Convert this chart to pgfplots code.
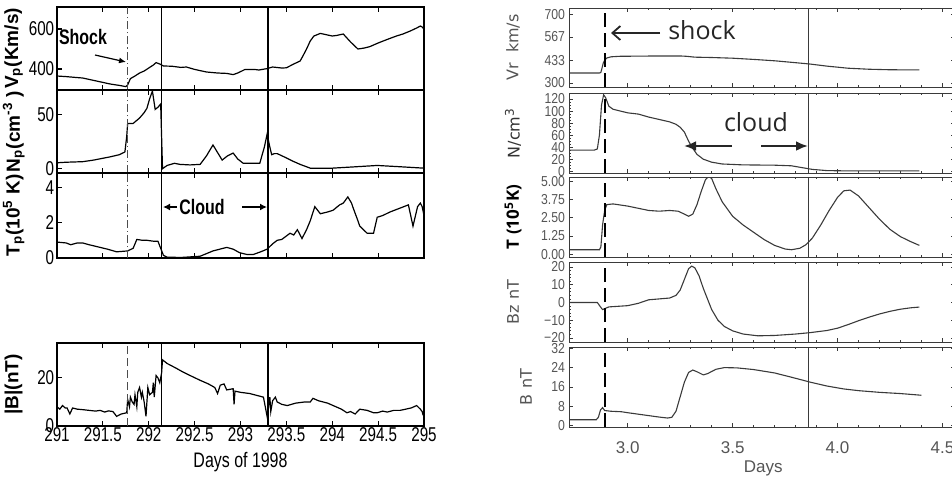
\documentclass[border=0pt]{standalone}
\usepackage{fontspec}
\usepackage{pgfplots}
\pgfplotsset{compat=1.18}
\usetikzlibrary{arrows.meta}
\setmainfont{Liberation Sans}
\newfontfamily\lcond[FakeStretch=0.76]{Liberation Sans}
\newfontfamily\rcond[FakeStretch=0.85]{Liberation Sans}
\newfontfamily\osans{Open Sans}
\newfontfamily\dejavu{DejaVu Sans}
\definecolor{rgray}{HTML}{3A3A3A}
\definecolor{rtick}{HTML}{555555}

\pgfplotsset{
  leftpanel/.style={
    scale only axis, width=183.5pt, anchor=north west,
    xmin=291, xmax=295, xtick={291,291.5,292,292.5,293,293.5,294,294.5,295},
    xtick pos=both, ytick pos=left, tick align=inside,
    major tick length=2.5pt,
    xticklabels={},
    axis line style={line width=0.6pt},
    every tick/.style={black, line width=0.6pt},
    /pgf/number format/assume math mode=true,
    yticklabel style={font=\lcond\fontsize{10}{10}\selectfont, inner sep=1.2pt},
    xticklabel style={font=\lcond\fontsize{10}{10}\selectfont, inner sep=0.5pt, anchor=north},
    ylabel style={font=\bfseries\fontsize{9.5}{9.5}\selectfont, at={(axis description cs:-0.118,0.5)}, anchor=center, rotate=0},
  },
  rightpanel/.style={
    scale only axis, width=193pt, height=40pt, anchor=north west,
    xmin=2.72, xmax=4.56, xtick={3,3.5,4,4.5}, minor x tick num=4,
    xtick pos=both, ytick pos=both, tick align=inside,
    xticklabels={},
    major tick length=2pt, minor tick length=1.2pt,
    axis line style={rgray, line width=0.5pt},
    every tick/.style={rgray, line width=0.4pt},
    /pgf/number format/assume math mode=true,
    yticklabel style={font=\rcond\fontsize{7.2}{7.2}\selectfont, text=rtick, inner sep=1.8pt},
    xticklabel style={font=\fontsize{8.5}{8.5}\selectfont, text=rtick, inner sep=0pt, anchor=north, yshift=-7pt},
    ylabel style={at={(axis description cs:-0.145,0.5)}, anchor=center, text=rtick, font=\dejavu\fontsize{8}{8}\selectfont},
  },
  lcurve/.style={black, line width=0.6pt, no marks},
  rcurve/.style={rgray, line width=0.55pt, no marks},
}

\newcommand{\vl}[2]{\draw[#1] ({axis cs:#2,0} |- {rel axis cs:0,0}) -- ({axis cs:#2,0} |- {rel axis cs:0,1});}

\begin{document}
\begin{tikzpicture}
\useasboundingbox (0,0) rectangle (476pt,-239pt);

% ---------------- LEFT GROUP ----------------
\begin{axis}[leftpanel, at={(28.5pt,-3.5pt)}, height=41.5pt, ymin=295, ymax=710, ytick={400,600},
  ylabel={V\textsubscript{p}(Km/s)}]
\addplot[lcurve] coordinates {(291.0,365)(291.1,362)(291.2,358)(291.28,355)(291.35,348)(291.45,338)(291.58,325)(291.68,318)(291.75,312)(291.77,320)(291.8,352)(291.85,365)(291.9,380)(291.95,390)(292.0,405)(292.05,420)(292.08,432)(292.12,425)(292.16,415)(292.25,414)(292.35,408)(292.41,410)(292.5,398)(292.63,385)(292.75,380)(292.85,378)(292.92,372)(292.97,380)(293.05,398)(293.15,398)(293.2,395)(293.29,402)(293.35,410)(293.45,405)(293.5,406)(293.58,425)(293.65,440)(293.68,465)(293.72,500)(293.76,540)(293.8,565)(293.87,578)(293.95,570)(294.0,565)(294.05,568)(294.12,575)(294.2,535)(294.28,500)(294.35,505)(294.41,512)(294.5,530)(294.6,548)(294.7,565)(294.77,575)(294.85,590)(294.92,605)(294.96,615)(294.98,610)(295,600)};
\vl{black!70, line width=0.6pt, dash pattern=on 4pt off 1.5pt on 0.6pt off 1.5pt}{291.77}
\vl{black, line width=0.55pt}{292.14}
\vl{black, line width=0.55pt}{293.30}
\end{axis}

\begin{axis}[leftpanel, at={(28.5pt,-45pt)}, height=41.5pt, ymin=-4, ymax=73, ytick={0,50},
  ylabel={N\textsubscript{p}(cm\textsuperscript{-3} )}]
\addplot[lcurve] coordinates {(291.0,5.5)(291.1,6)(291.28,6.5)(291.4,8)(291.58,11)(291.68,13)(291.74,15.5)(291.76,30)(291.77,42)(291.83,42)(291.9,47)(291.95,52)(291.98,56)(292.01,65)(292.04,72)(292.07,55)(292.1,57)(292.13,60)(292.15,0)(292.2,3)(292.28,5)(292.34,4)(292.45,3.5)(292.56,4)(292.63,12)(292.70,22)(292.75,15)(292.80,8)(292.86,12)(292.92,14.5)(292.97,9)(293.03,5)(293.15,5)(293.21,5)(293.26,20)(293.29,32)(293.32,20)(293.34,13)(293.37,14)(293.40,14)(293.5,10)(293.57,7)(293.65,4)(293.76,0.5)(294.0,0.5)(294.2,1.5)(294.49,3)(294.7,2)(295,0.5)};
\vl{black!70, line width=0.6pt, dash pattern=on 4pt off 1.5pt on 0.6pt off 1.5pt}{291.77}
\vl{black, line width=0.55pt}{292.14}
\vl{black, line width=0.55pt}{293.30}
\end{axis}

\begin{axis}[leftpanel, at={(28.5pt,-86.5pt)}, height=42.5pt, ymin=0, ymax=4.8, ytick={0,2,4},
  ylabel={T\textsubscript{p}(10\textsuperscript{5} K)}]
\addplot[lcurve] coordinates {(291.0,0.9)(291.1,0.85)(291.15,0.75)(291.22,0.85)(291.28,0.85)(291.35,0.75)(291.47,0.6)(291.55,0.5)(291.65,0.35)(291.77,0.4)(291.83,0.55)(291.87,1.05)(291.93,1.0)(291.98,1.0)(292.05,0.95)(292.1,0.95)(292.16,0.15)(292.2,0.05)(292.35,0.03)(292.56,0.1)(292.7,0.4)(292.85,0.6)(292.92,0.5)(292.99,0.3)(293.07,0.2)(293.14,0.2)(293.22,0.35)(293.29,0.5)(293.35,0.8)(293.4,1.0)(293.45,1.05)(293.54,1.4)(293.58,1.3)(293.62,1.6)(293.67,1.1)(293.72,1.6)(293.76,2.1)(293.81,2.9)(293.87,2.5)(293.95,2.6)(294.01,2.7)(294.08,3.0)(294.12,3.1)(294.17,3.45)(294.21,3.1)(294.23,2.8)(294.28,2.1)(294.3,1.8)(294.38,1.4)(294.45,1.4)(294.49,2.3)(294.55,2.4)(294.63,2.6)(294.73,2.8)(294.83,3.0)(294.88,1.8)(294.93,2.9)(294.96,3.1)(294.98,2.9)(295,2.4)};
\vl{black!70, line width=0.6pt, dash pattern=on 4pt off 1.5pt on 0.6pt off 1.5pt}{291.77}
\vl{black, line width=0.55pt}{292.14}
\vl{black, line width=0.55pt}{293.30}
\end{axis}

\begin{axis}[leftpanel, at={(28.5pt,-171.5pt)}, height=41.5pt, ymin=0, ymax=34.5, ytick={0,20},
  xticklabels={291,291.5,292,292.5,293,293.5,294,294.5,295},
  ylabel={|B|(nT)},
  xlabel={Days of 1998},
  xlabel style={font=\lcond\fontsize{10.5}{10.5}\selectfont, at={(axis description cs:0.5,0)}, anchor=center, yshift=-18pt}]
\addplot[lcurve] coordinates {(291.0,8)(291.03,7)(291.06,8.5)(291.09,7.5)(291.11,7.5)(291.14,5)(291.17,7.5)(291.22,7)(291.28,6.8)(291.35,6.5)(291.42,6.2)(291.47,6.5)(291.52,5.8)(291.56,6.3)(291.61,6)(291.65,4)(291.7,5)(291.76,5.5)(291.77,11)(291.79,8)(291.8,12)(291.82,10)(291.84,9)(291.85,13)(291.87,8)(291.88,14)(291.9,16)(291.92,12)(291.93,14)(291.95,10)(291.97,4)(291.99,16)(292.01,13)(292.04,14)(292.05,18)(292.06,12)(292.08,21)(292.1,20)(292.12,18)(292.14,22)(292.15,27.5)(292.2,26)(292.3,24)(292.37,22.5)(292.45,21)(292.56,19)(292.65,17.5)(292.72,16)(292.75,13.5)(292.78,17)(292.82,17.5)(292.85,15)(292.92,15.5)(292.93,9)(292.94,14.5)(293.0,14)(293.1,13.5)(293.2,12.5)(293.25,12)(293.28,6)(293.29,4)(293.31,9)(293.32,12)(293.33,6)(293.35,10.5)(293.38,12)(293.4,10)(293.45,9)(293.51,8.5)(293.6,9.5)(293.7,10)(293.76,10)(293.79,11.5)(293.85,10.5)(293.95,9.5)(294.01,8.5)(294.1,7)(294.16,5.5)(294.2,6)(294.25,5)(294.3,7)(294.38,6.5)(294.45,5.5)(294.49,5.5)(294.55,6.2)(294.6,5.8)(294.67,6.5)(294.74,6.5)(294.8,7)(294.86,7.5)(294.92,8.5)(294.96,7)(294.98,6)(294.99,4.5)};
\vl{black!70, line width=0.7pt, dash pattern=on 4pt off 2pt}{291.77}
\vl{black, line width=0.55pt}{292.14}
\vl{black, line width=0.55pt}{293.30}
\end{axis}

% left annotations
\node[font=\lcond\bfseries\fontsize{10.5}{10.5}\selectfont] at (41.5pt,-18.5pt) {Shock};
\draw[line width=0.6pt, -{Latex[length=3.5pt,width=3pt]}] (47.5pt,-27.5pt) -- (63pt,-31pt);
\node[font=\lcond\bfseries\fontsize{10.5}{10.5}\selectfont] at (101pt,-103.5pt) {Cloud};
\draw[line width=0.8pt, -{Latex[length=3.5pt,width=3.5pt]}] (88.5pt,-103.5pt) -- (81.5pt,-103.5pt);
\draw[line width=0.8pt, -{Latex[length=3.5pt,width=3.5pt]}] (121pt,-103.5pt) -- (133.5pt,-103.5pt);

% ---------------- RIGHT GROUP ----------------
\begin{axis}[rightpanel, at={(284.5pt,-4pt)}, height=39.5pt, ymin=277, ymax=735,
  ytick={300,433.3,566.7,700}, yticklabels={300,433,567,700},
  ylabel={Vr\ \ km/s}]
\addplot[rcurve] coordinates {(2.72,358)(2.865,358)(2.872,362)(2.878,390)(2.883,415)(2.89,432)(2.9,445)(2.92,452)(2.96,455)(3.05,456)(3.15,457)(3.25,457)(3.28,455)(3.32,450)(3.4,448)(3.5,444)(3.6,437)(3.7,429)(3.8,418)(3.87,410)(3.95,398)(4.05,386)(4.15,380)(4.25,377)(4.39,376)};
\vl{black, line width=1pt, dash pattern=on 7pt off 3pt}{2.89}
\vl{rgray, line width=0.5pt}{3.862}
\end{axis}

\begin{axis}[rightpanel, at={(284.5pt,-46.5pt)}, ymin=-3, ymax=130,
  ytick={0,20,40,60,80,100,120}, minor y tick num=3,
  ylabel={N/cm\textsuperscript{3}}, ylabel style={text=black!80}]
\addplot[rcurve] coordinates {(2.72,35)(2.84,35)(2.855,37)(2.865,60)(2.875,110)(2.885,127)(2.895,122)(2.91,108)(2.93,103)(3.0,97)(3.05,95)(3.1,90)(3.15,86)(3.2,82)(3.23,78)(3.25,73)(3.27,65)(3.29,50)(3.31,38)(3.33,28)(3.36,20)(3.4,15)(3.45,12)(3.55,10.5)(3.7,10)(3.78,9)(3.83,6)(3.88,3)(3.95,1)(4.05,0.5)(4.39,0.5)};
\vl{black, line width=1pt, dash pattern=on 7pt off 3pt}{2.89}
\vl{rgray, line width=0.5pt}{3.862}
\end{axis}

\begin{axis}[rightpanel, at={(284.5pt,-88.5pt)}, ymin=-0.2, ymax=5.3,
  ytick={0,1.25,2.5,3.75,5}, yticklabels={0.00,1.25,2.50,3.75,5.00},
  ylabel={T (10\textsuperscript{5}K)}, ylabel style={text=black, font=\osans\bfseries\fontsize{8.5}{8.5}\selectfont}]
\addplot[rcurve] coordinates {(2.72,0.3)(2.865,0.3)(2.872,0.5)(2.88,2.0)(2.89,3.0)(2.9,3.4)(2.93,3.45)(3.0,3.3)(3.05,3.15)(3.1,3.0)(3.15,2.95)(3.2,3.0)(3.24,2.95)(3.27,2.75)(3.29,2.6)(3.31,2.75)(3.33,3.4)(3.35,4.3)(3.37,5.1)(3.385,5.35)(3.4,5.2)(3.42,4.5)(3.45,3.6)(3.5,2.6)(3.55,2.0)(3.6,1.5)(3.65,1.0)(3.7,0.6)(3.75,0.35)(3.78,0.3)(3.82,0.4)(3.85,0.65)(3.88,1.1)(3.92,2.0)(3.96,3.0)(4.0,3.9)(4.03,4.35)(4.06,4.4)(4.1,4.0)(4.15,3.2)(4.2,2.4)(4.25,1.7)(4.3,1.2)(4.35,0.85)(4.39,0.6)};
\vl{black, line width=1pt, dash pattern=on 7pt off 3pt}{2.89}
\vl{rgray, line width=0.5pt}{3.862}
\end{axis}

\begin{axis}[rightpanel, at={(284.5pt,-131pt)}, ymin=-22.3, ymax=22.8,
  ytick={-20,-10,0,10,20}, yticklabels={−20,−10,0,10,20}, minor y tick num=4,
  ylabel={Bz\ nT}]
\addplot[rcurve] coordinates {(2.72,0)(2.855,0)(2.87,-2.5)(2.88,-4)(2.89,-3.5)(2.91,-2.5)(2.95,-2.2)(3.0,-1.8)(3.05,-0.5)(3.1,1.5)(3.15,2)(3.2,2.5)(3.23,4)(3.25,7)(3.27,13)(3.29,19)(3.305,20.5)(3.32,19.5)(3.34,15)(3.36,8)(3.38,2)(3.4,-4)(3.43,-10)(3.46,-13.5)(3.5,-16)(3.55,-17.8)(3.62,-18.8)(3.7,-18.6)(3.8,-17.8)(3.87,-17)(3.95,-15.8)(4.0,-14.5)(4.05,-12.5)(4.1,-10.3)(4.15,-8.3)(4.2,-6.5)(4.25,-5)(4.3,-3.8)(4.35,-3)(4.39,-2.6)};
\vl{black, line width=1pt, dash pattern=on 7pt off 3pt}{2.89}
\vl{rgray, line width=0.5pt}{3.862}
\end{axis}

\begin{axis}[rightpanel, at={(284.5pt,-173.5pt)}, ymin=-0.5, ymax=32.5,
  ytick={0,8,16,24,32},
  xticklabels={3.0,3.5,4.0,4.5},
  ylabel={B\ nT}, ylabel style={at={(axis description cs:-0.111,0.5)}},
  xlabel={Days}, xlabel style={font=\fontsize{8.5}{8.5}\selectfont, text=rtick, at={(axis description cs:0.503,0)}, anchor=center, yshift=-20.5pt}]
\addplot[rcurve] coordinates {(2.72,2.5)(2.85,2.5)(2.86,3.5)(2.87,6.5)(2.88,7.5)(2.89,6.3)(2.92,6.0)(2.97,5.8)(3.0,5.4)(3.05,4.8)(3.1,4.2)(3.15,3.6)(3.19,3.2)(3.21,3.5)(3.23,6)(3.25,12)(3.27,18)(3.29,22)(3.31,23)(3.33,22.3)(3.36,21)(3.38,21.5)(3.42,23.3)(3.46,24)(3.52,23.9)(3.6,23.2)(3.7,21.8)(3.8,19.6)(3.87,18)(3.95,16.4)(4.03,15.2)(4.1,14.5)(4.2,13.8)(4.3,13.3)(4.4,12.6)};
\vl{black, line width=1pt, dash pattern=on 7pt off 3pt}{2.89}
\vl{rgray, line width=0.5pt}{3.862}
\end{axis}

% right annotations
\node[font=\osans\fontsize{12.5}{12.5}\selectfont, text=black!85] at (351pt,-15pt) {shock};
\draw[black!85, line width=0.9pt, -{Straight Barb[length=4pt,width=7pt]}] (330pt,-16.5pt) -- (305.5pt,-16.5pt);
\node[font=\osans\fontsize{12.5}{12.5}\selectfont, text=black!85] at (378pt,-61pt) {cloud};
\draw[black!85, line width=1.2pt, -{Latex[length=6pt,width=5pt]}] (366pt,-73pt) -- (342pt,-73pt);
\draw[black!85, line width=1.2pt, -{Latex[length=6pt,width=5pt]}] (380.5pt,-73pt) -- (404pt,-73pt);
\end{tikzpicture}
\end{document}
